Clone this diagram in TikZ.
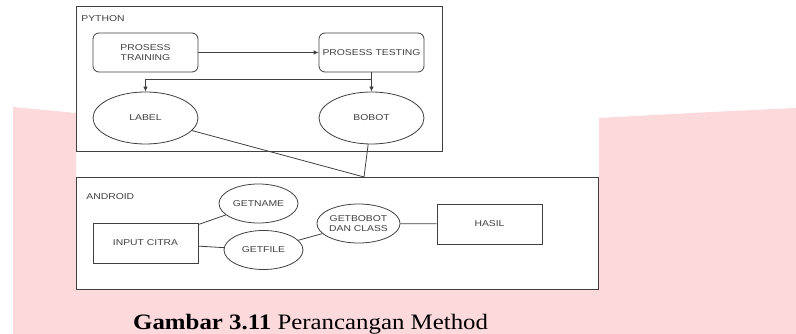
\documentclass[tikz,border=0pt]{standalone}
\usepackage{fontspec}
\newfontfamily\diagfont{Liberation Sans}[FakeStretch=1.22]
\newfontfamily\capfont{Liberation Serif}[FakeStretch=1.13]
\usetikzlibrary{shapes.geometric,arrows.meta}
\definecolor{pinkbg}{RGB}{252,217,219}
\definecolor{linegray}{RGB}{64,64,64}
\tikzset{
    procbox/.style={draw,rounded corners=6pt,minimum width=105pt,minimum height=39pt,align=center},
    databox/.style={draw,ellipse,minimum width=105pt,minimum height=52pt},
    methodbox/.style={draw,ellipse,minimum width=79pt,minimum height=39pt,inner sep=0pt,align=center},
    plainbox/.style={draw,minimum width=105pt,minimum height=40pt},
}
\begin{document}
\begin{tikzpicture}[x=1pt,y=-1pt]
            \useasboundingbox (0,0) rectangle (796,334);
            \fill[pinkbg]
                (13,107) -- (76,113) -- (76,289) -- (599,289) -- (599,118)
                .. controls (690,113) .. (796,108) -- (796,334) -- (13,334) -- cycle
            ;

            \begin{scope}[draw=linegray,line width=0.8pt,text=black!75,
                    font=\diagfont\fontsize{8.5}{9.5}\selectfont,
                    >={Latex[length=5pt,width=4.5pt]}]
                \draw
                    (76,6) rectangle (442,151)
                    (76,177) rectangle (598,289)
                ;

                \node [anchor=west,inner sep=0pt] (python)  at (81,19)  {PYTHON};
                \node [anchor=west,inner sep=0pt] (android) at (86,197) {ANDROID};

                \node [procbox]   (training) at (145.5,52.5) {PROSESS\\TRAINING};
                \node [procbox]   (testing)  at (371.5,52.5) {PROSESS TESTING};
                \node [databox]   (label)    at (145.5,118)  {LABEL};
                \node [databox]   (bobot)    at (371.5,118)  {BOBOT};

                \node [plainbox]  (input)    at (145.5,243)  {INPUT CITRA};
                \node [methodbox] (getname)  at (258.5,203.5) {GETNAME};
                \node [methodbox] (getfile)  at (263.5,250)  {GETFILE};
                \node [methodbox] (getbobot) at (358.5,223.5) {GETBOBOT\\DAN CLASS};
                \node [plainbox]  (hasil)    at (489.5,224)  {HASIL};

                \coordinate (split) at (371.5,79);
                \coordinate (joint) at (364,177);

                \draw [->] (training) -- (testing);
                \draw [->] (testing.south) -- (bobot.north);
                \draw [->] (split) -| (label.north);
                \draw
                    (label) -- (joint)
                    (bobot) -- (joint)
                    (input) -- (getname)
                    (input) -- (getfile)
                    (getfile) -- (getbobot)
                    (getbobot) -- (hasil)
                ;
            \end{scope}

            \node [anchor=base west,inner sep=0pt,font=\capfont\fontsize{22}{26}\selectfont] (caption) at (133,329)
                {\textbf{Gambar 3.11} Perancangan Method};
        \end{tikzpicture}
\end{document}
